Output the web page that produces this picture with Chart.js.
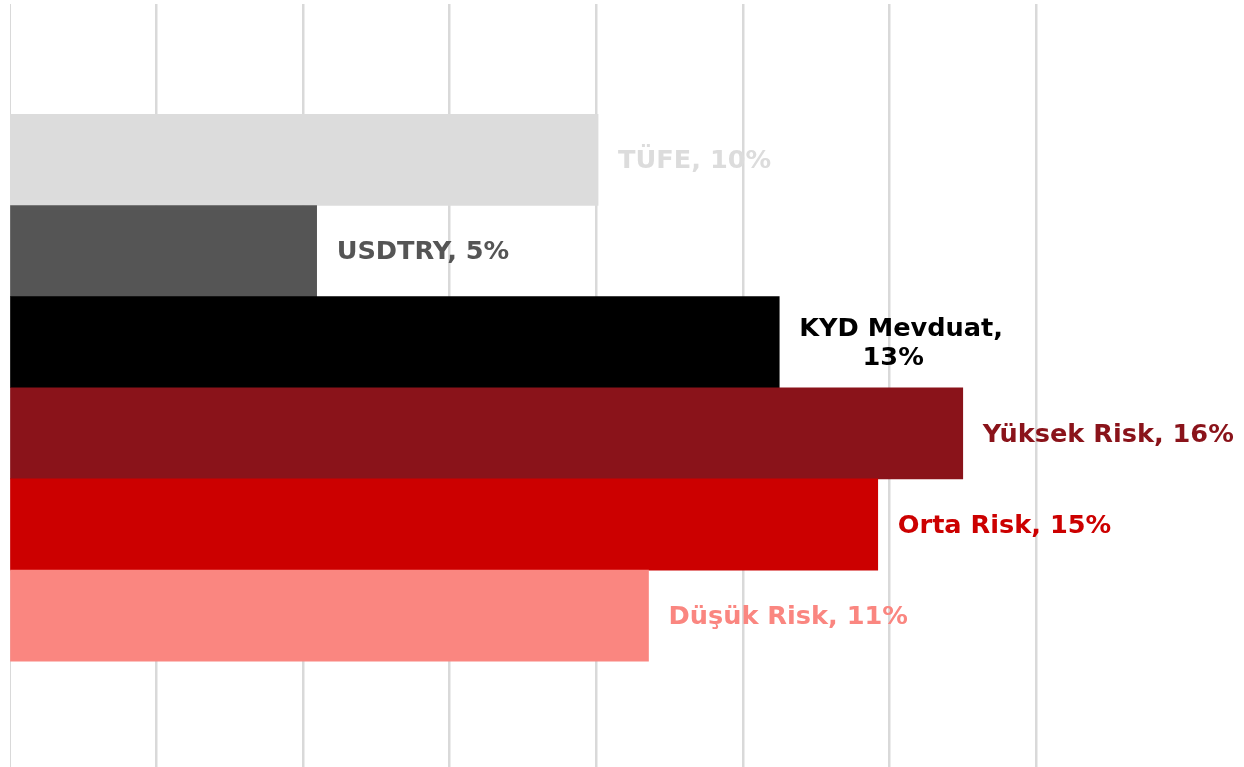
<!DOCTYPE html>
<html>
<head>
<meta charset="utf-8">
<script src="https://cdn.jsdelivr.net/npm/chart.js@4"></script>
<style>
    html, body { margin: 0; padding: 0; background: #ffffff; }
    #wrap { width: 1244px; height: 767px; }
</style>
</head>
<body>
<div id="wrap"><canvas id="returns" width="1244" height="767"></canvas></div>
<script>
// categories, top to bottom
const categories = ['TÜFE', 'USDTRY', 'KYD Mevduat', 'Yüksek Risk', 'Orta Risk', 'Düşük Risk'];
// yearly return, %
const values = [10.03, 5.23, 13.12, 16.25, 14.80, 10.89];
// text written next to each bar
const barLabels = [
    ['TÜFE, 10%'],
    ['USDTRY, 5%'],
    ['KYD Mevduat,', '13%'],
    ['Yüksek Risk, 16%'],
    ['Orta Risk, 15%'],
    ['Düşük Risk, 11%']
];
const barColors = ['#dcdcdc', '#555555', '#000000', '#8a131a', '#cc0000', '#fa8680'];

const barLabelPlugin = {
    id: 'barLabels',
    afterDatasetsDraw(chart) {
        const ctx = chart.ctx;
        const meta = chart.getDatasetMeta(0);
        ctx.save();
        ctx.font = 'bold 25.6px "DejaVu Sans"';
        ctx.textBaseline = 'middle';
        meta.data.forEach(function (bar, i) {
            const lines = barLabels[i];
            const left = bar.x + 20;
            const lineH = 29;
            let widest = 0;
            lines.forEach(function (l) { widest = Math.max(widest, ctx.measureText(l).width); });
            ctx.fillStyle = barColors[i];
            lines.forEach(function (l, j) {
                const y = bar.y + 1.5 + (j - (lines.length - 1) / 2) * lineH;
                if (lines.length > 1) {
                    // second line sits a little left of the block centre, as in the original
                    ctx.textAlign = 'center';
                    ctx.fillText(l, left + widest / 2 - (j > 0 ? 8 : 0), y);
                } else {
                    ctx.textAlign = 'left';
                    ctx.fillText(l, left, y);
                }
            });
        });
        ctx.restore();
    }
};

new Chart(document.getElementById('returns'), {
    type: 'bar',
    data: {
        labels: categories,
        datasets: [{
            data: values.map((v, i) => ({x: v, y: i})),
            backgroundColor: barColors,
            borderWidth: 0,
            barPercentage: 1,
            categoryPercentage: 1
        }]
    },
    options: {
        indexAxis: 'y',
        responsive: false,
        animation: false,
        layout: {
            padding: {left: 10, top: 4, right: 120, bottom: 0}
        },
        plugins: {
            legend: {display: false},
            tooltip: {enabled: false}
        },
        scales: {
            x: {
                type: 'linear',
                min: 0,
                max: 19,
                border: {display: false},
                ticks: {display: false, stepSize: 2.5},
                grid: {
                    drawTicks: false,
                    color: ctx => (ctx.tick && ctx.tick.value % 2.5 === 0) ? '#d9d9d9' : 'rgba(0,0,0,0)',
                    lineWidth: ctx => (ctx.tick && ctx.tick.value === 0) ? 1 : 2.5
                }
            },
            y: {
                type: 'linear',
                reverse: true,
                offset: false,
                min: -1.71,
                max: 6.66,
                display: false,
                afterBuildTicks: axis => {
                    axis.ticks = categories.map((c, i) => ({value: i}));
                }
            }
        }
    },
    plugins: [barLabelPlugin]
});
</script>
</body>
</html>
